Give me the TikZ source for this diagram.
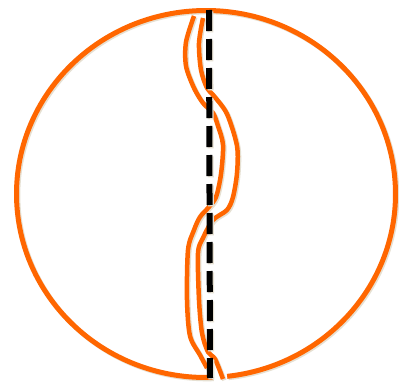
\documentclass[tikz,border=0pt]{standalone}
\definecolor{orng}{RGB}{255,102,0}
\definecolor{shd}{RGB}{230,224,210}
\begin{document}
\begin{tikzpicture}[x=1pt,y=-1pt,
  halo/.style={draw=white, line width=9pt},
  shadowline/.style={draw=shd, line width=#1, transform canvas={shift={(1.3pt,-1.3pt)}}},
  orangeline/.style={draw=orng, line width=#1}]
\useasboundingbox (0,0) rectangle (399,383);
\fill[white] (0,0) rectangle (399,383);
% circle with a gap at the bottom
\path[save path=\pC] (206,194) ++(88:189.5 and 183.5) arc[start angle=88, end angle=443.6, x radius=189.5, y radius=183.5];
\draw[use path=\pC, shadowline=5pt];
\draw[use path=\pC, orangeline=5pt];
% wavy line A
\path[save path=\pA] plot[smooth, tension=0.5] coordinates {(194,16) (186,42) (186,66) (194,88) (203,103) (213,113) (218,126) (223,145) (221,174) (216,197) (208,208) (200,217) (194,230) (188,250) (187,300) (190,336) (200,355) (207,368)};
% wavy line B
\path[save path=\pB] plot[smooth, tension=0.5] coordinates {(203,18) (199,43) (201,70) (207,88) (214,96) (227,114) (237,146) (237,173) (233,197) (227,210) (213,220) (203,238) (198,253) (199,300) (202,333) (208,352) (215,359) (223,379)};
\draw[use path=\pA, halo];
\draw[use path=\pB, halo];
\draw[use path=\pA, shadowline=4.5pt];
\draw[use path=\pB, shadowline=4.5pt];
\draw[use path=\pA, orangeline=4.5pt];
\draw[use path=\pB, orangeline=4.5pt];
% dashed axis
\coordinate (top) at (209,10);
\coordinate (bot) at (210,378);
\draw[shd, line width=6pt, dash pattern=on 21pt off 8pt, transform canvas={shift={(1.3pt,-1.3pt)}}] (top) -- (bot);
\draw[black, line width=6pt, dash pattern=on 21pt off 8pt] (top) -- (bot);
\end{tikzpicture}
\end{document}
